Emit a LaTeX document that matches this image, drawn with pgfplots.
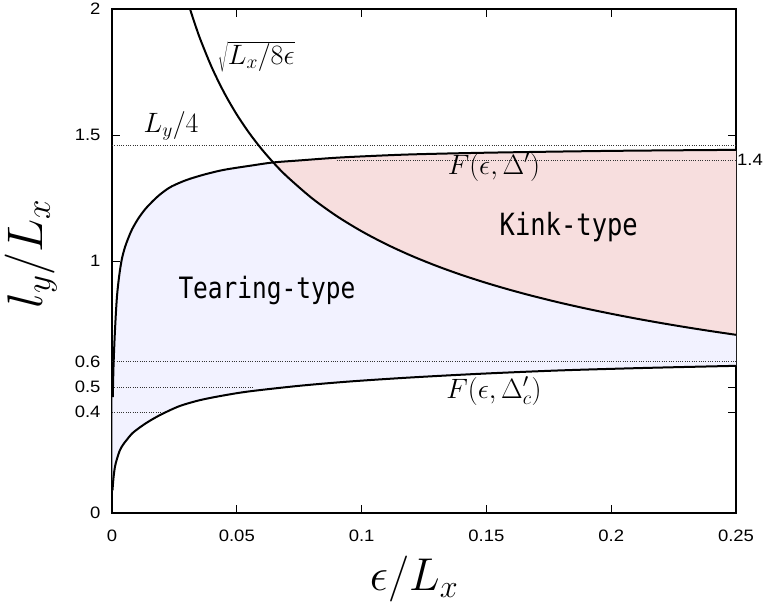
\RequirePackage{fix-cm}
\documentclass[border=0pt]{standalone}
\usepackage{graphicx}
\usepackage{pgfplots}
\pgfplotsset{compat=1.18}
\usepackage{fontspec}
\setmainfont{Liberation Sans}
\newfontfamily\monofont{DejaVu Sans Mono}
\newcommand{\tl}[1]{\scalebox{1.12}[1]{#1}}
\definecolor{tearfill}{RGB}{242,242,255}
\definecolor{kinkfill}{RGB}{247,222,222}
\begin{document}
\begin{tikzpicture}
\begin{axis}[
  scale only axis, width=624pt, height=504pt,
  xmin=0, xmax=0.25, ymin=0, ymax=2,
  xtick={0,0.05,0.1,0.15,0.2,0.25},
  xticklabels={\tl{0},\tl{0.05},\tl{0.1},\tl{0.15},\tl{0.2},\tl{0.25}},
  ytick={0,0.4,0.5,0.6,1,1.5,2},
  yticklabels={\tl{0},\tl{0.4},\tl{0.5},\tl{0.6},\tl{1},\tl{1.5},\tl{2}},
  tick align=inside, major tick length=8pt,
  tick style={black, line width=0.8pt},
  axis line style={black, line width=1.4pt},
  ticklabel style={font=\fontsize{16.5}{19}\selectfont},
  xticklabel style={yshift=-13pt},
  yticklabel style={xshift=-8pt},
  clip=false,
  xlabel={$\epsilon/L_x$}, ylabel={$l_y/L_x$},
  xlabel style={font=\fontsize{46}{52}\selectfont, at={(axis description cs:0.484,-0.131)}, anchor=center},
  ylabel style={font=\fontsize{50}{56}\selectfont, at={(axis description cs:-0.13,0.514)}, anchor=center},
]
% Tearing-type region
\addplot[fill=tearfill, draw=none] coordinates {
(0.0003,0.46) (0.0006,0.58) (0.0009,0.66) (0.0012,0.726) (0.0016,0.80) (0.0020,0.86)
(0.0025,0.91) (0.0032,0.964) (0.0040,1.01) (0.0052,1.055) (0.0065,1.09) (0.0080,1.125)
(0.0105,1.168) (0.0135,1.208) (0.0172,1.246) (0.0200,1.27) (0.0239,1.296) (0.030,1.322)
(0.0373,1.344) (0.045,1.362) (0.056,1.379) (0.0645,1.391)
(0.07,1.3363) (0.08,1.25) (0.09,1.1785) (0.1,1.1180) (0.11,1.0660) (0.12,1.0206)
(0.13,0.9806) (0.14,0.9449) (0.15,0.9129) (0.16,0.8839) (0.17,0.8575) (0.18,0.8333)
(0.19,0.8111) (0.2,0.7906) (0.21,0.7715) (0.22,0.7538) (0.23,0.7372) (0.24,0.7217) (0.25,0.7071)
(0.25,0.584) (0.215,0.576) (0.18,0.566) (0.1486,0.553) (0.12,0.538) (0.0954,0.522)
(0.0753,0.505) (0.0553,0.483) (0.045,0.467) (0.0353,0.448) (0.027,0.424) (0.0199,0.392)
(0.015,0.365) (0.0112,0.34) (0.008,0.315) (0.0059,0.29) (0.0045,0.272) (0.0032,0.25)
(0.002,0.215) (0.0012,0.184) (0.0006,0.14) (0.0002,0.09) (0.0002,0.46)
};
% Kink-type region
\addplot[fill=kinkfill, draw=none] coordinates {
(0.0645,1.391) (0.075,1.399) (0.0886,1.409) (0.10,1.415) (0.12,1.423) (0.1514,1.43)
(0.20,1.437) (0.25,1.441)
(0.25,0.7071) (0.24,0.7217) (0.23,0.7372) (0.22,0.7538) (0.21,0.7715) (0.2,0.7906)
(0.19,0.8111) (0.18,0.8333) (0.17,0.8575) (0.16,0.8839) (0.15,0.9129) (0.14,0.9449)
(0.13,0.9806) (0.12,1.0206) (0.11,1.0660) (0.1,1.1180) (0.09,1.1785) (0.08,1.25) (0.07,1.3363)
};
% dotted reference lines
\pgfplotsset{refline/.style={black!80, line width=0.7pt, dash pattern=on 0.7pt off 1.6pt}}
\addplot[refline] coordinates {(0,1.46) (0.25,1.46)};
\addplot[refline] coordinates {(0.09,1.4) (0.25,1.4)};
\addplot[refline] coordinates {(0,0.6) (0.25,0.6)};
\addplot[refline] coordinates {(0,0.5) (0.0565,0.5)};
\addplot[refline] coordinates {(0,0.4) (0.0198,0.4)};
% F(eps, Delta')
\addplot[black, line width=2pt, smooth] coordinates {
(0.0003,0.46) (0.0006,0.58) (0.0009,0.66) (0.0012,0.726) (0.0016,0.80) (0.0020,0.86)
(0.0025,0.91) (0.0032,0.964) (0.0040,1.01) (0.0052,1.055) (0.0065,1.09) (0.0080,1.125)
(0.0105,1.168) (0.0135,1.208) (0.0172,1.246) (0.0200,1.27) (0.0239,1.296) (0.030,1.322)
(0.0373,1.344) (0.045,1.362) (0.056,1.379) (0.0645,1.391) (0.075,1.399) (0.0886,1.409)
(0.10,1.415) (0.12,1.423) (0.1514,1.43) (0.20,1.437) (0.25,1.441)
};
% F(eps, Delta'_c)
\addplot[black, line width=2pt, smooth] coordinates {
(0.0002,0.09) (0.0006,0.14) (0.0012,0.184) (0.002,0.215) (0.0032,0.25) (0.0045,0.272)
(0.0059,0.29) (0.008,0.315) (0.0112,0.34) (0.015,0.365) (0.0199,0.392) (0.027,0.424)
(0.0353,0.448) (0.045,0.467) (0.0553,0.483) (0.0753,0.505) (0.0954,0.522) (0.12,0.538)
(0.1486,0.553) (0.18,0.566) (0.215,0.576) (0.25,0.584)
};
% sqrt(Lx/8eps)
\addplot[black, line width=2pt, smooth] coordinates {
(0.03125,2.0) (0.035,1.8898) (0.04,1.7678) (0.045,1.6667) (0.05,1.5811) (0.055,1.5076)
(0.06,1.4434) (0.065,1.3868) (0.07,1.3363) (0.08,1.25) (0.09,1.1785) (0.1,1.1180)
(0.11,1.0660) (0.12,1.0206) (0.13,0.9806) (0.14,0.9449) (0.15,0.9129) (0.16,0.8839)
(0.17,0.8575) (0.18,0.8333) (0.19,0.8111) (0.2,0.7906) (0.21,0.7715) (0.22,0.7538)
(0.23,0.7372) (0.24,0.7217) (0.25,0.7071)
};
% labels
\node[font=\fontsize{28}{32}\selectfont] at (axis cs:0.0237,1.536) {$L_y/4$};
\node[font=\fontsize{28}{32}\selectfont] at (axis cs:0.0578,1.81) {$\sqrt{L_x/8\epsilon}$};
\node[font=\fontsize{28}{32}\selectfont] at (axis cs:0.153,1.373) {$F(\epsilon,\Delta')$};
\node[font=\fontsize{28}{32}\selectfont] at (axis cs:0.153,0.484) {$F(\epsilon,\Delta'_c)$};
\node[font=\monofont\fontsize{24.5}{28}\selectfont] at (axis cs:0.0621,0.881) {\scalebox{1}[1.2]{Tearing-type}};
\node[font=\monofont\fontsize{25.5}{28}\selectfont] at (axis cs:0.183,1.135) {\scalebox{1}[1.2]{Kink-type}};
\node[font=\fontsize{16.5}{19}\selectfont, anchor=west, inner sep=1pt] at (axis cs:0.25,1.4) {\tl{1.4}};
\coordinate (sw) at (rel axis cs:0,0);
\coordinate (ne) at (rel axis cs:1,1);
\end{axis}
\pgfresetboundingbox
\path[use as bounding box] ([xshift=-112pt,yshift=-92pt]sw) rectangle ([xshift=28pt,yshift=9pt]ne);
\end{tikzpicture}
\end{document}
